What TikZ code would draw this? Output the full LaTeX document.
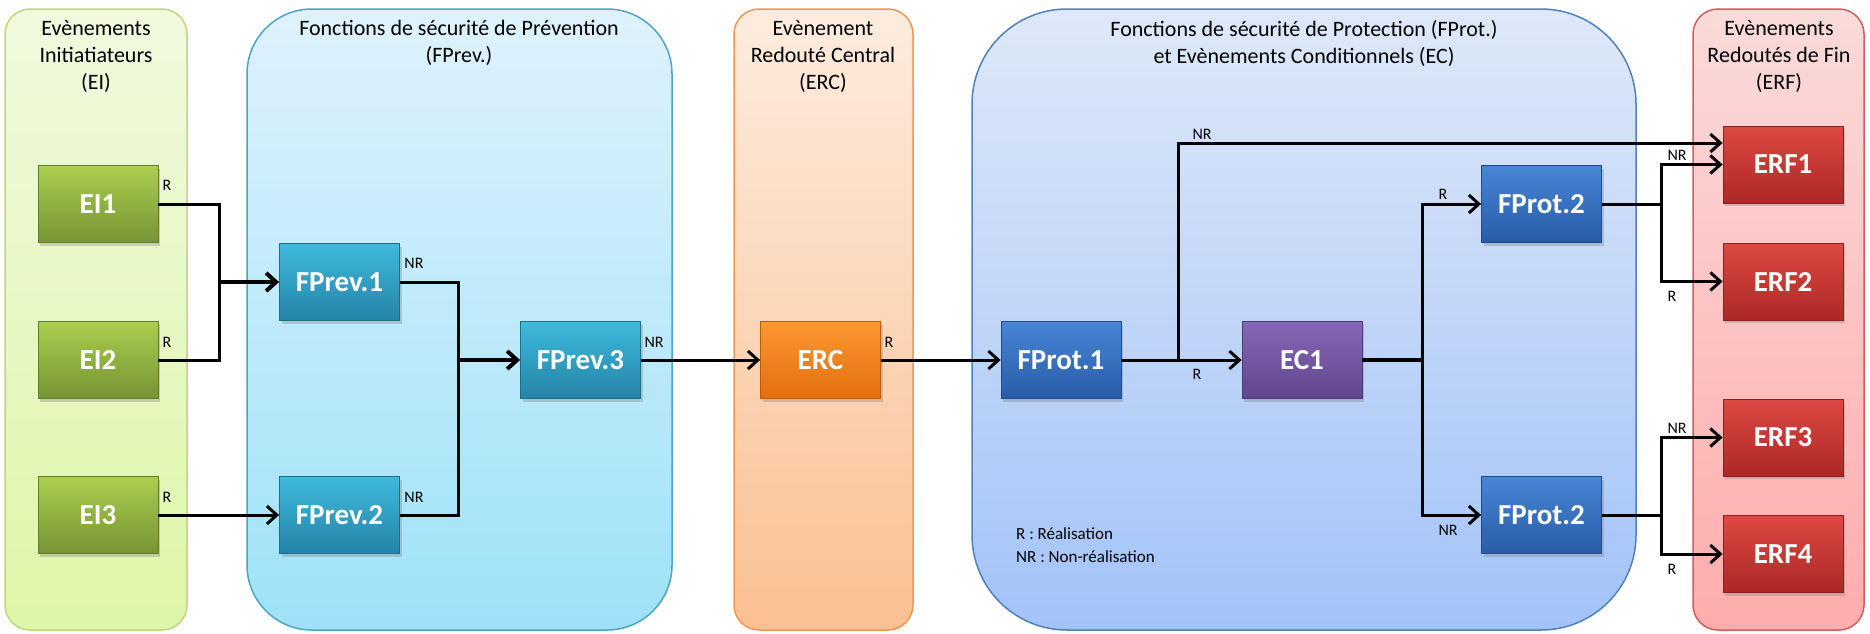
\documentclass[tikz,border=0pt]{standalone}
\usepackage{fontspec}
\setmainfont{Carlito}
\usetikzlibrary{arrows.meta,shadows,calc}
\definecolor{gpT}{RGB}{241,249,222}\definecolor{gpB}{RGB}{222,246,168}\definecolor{gpD}{RGB}{190,214,120}
\definecolor{cpT}{RGB}{222,242,252}\definecolor{cpB}{RGB}{158,226,248}\definecolor{cpD}{RGB}{75,165,195}
\definecolor{opT}{RGB}{253,236,222}\definecolor{opB}{RGB}{250,192,146}\definecolor{opD}{RGB}{240,150,80}
\definecolor{bpT}{RGB}{222,232,248}\definecolor{bpB}{RGB}{162,195,248}\definecolor{bpD}{RGB}{79,129,189}
\definecolor{rpT}{RGB}{250,218,218}\definecolor{rpB}{RGB}{255,172,172}\definecolor{rpD}{RGB}{205,95,95}
\definecolor{gnT}{RGB}{170,206,78}\definecolor{gnB}{RGB}{118,148,52}\definecolor{gnD}{RGB}{100,125,45}
\definecolor{cnT}{RGB}{62,185,220}\definecolor{cnB}{RGB}{36,132,168}\definecolor{cnD}{RGB}{30,110,140}
\definecolor{onT}{RGB}{252,152,48}\definecolor{onB}{RGB}{226,110,14}\definecolor{onD}{RGB}{190,90,10}
\definecolor{bnT}{RGB}{72,134,214}\definecolor{bnB}{RGB}{40,92,168}\definecolor{bnD}{RGB}{35,75,140}
\definecolor{pnT}{RGB}{134,104,184}\definecolor{pnB}{RGB}{96,70,140}\definecolor{pnD}{RGB}{80,58,118}
\definecolor{rnT}{RGB}{222,72,66}\definecolor{rnB}{RGB}{172,40,38}\definecolor{rnD}{RGB}{140,32,30}
\begin{document}
\begin{tikzpicture}[x=1pt,y=-1pt,
  panel/.style={line width=1.5pt},
  ttl/.style={anchor=north,align=center,inner sep=0pt,font=\fontsize{22}{27}\selectfont},
  box/.style={minimum width=120pt,minimum height=77pt,inner sep=0pt,text=white,
    font=\fontsize{29}{32}\selectfont\bfseries,line width=0.8pt,
    drop shadow={opacity=0.35,shadow xshift=2pt,shadow yshift=-3pt}},
  gbox/.style={box,draw=gnD,top color=gnT,bottom color=gnB},
  cbox/.style={box,draw=cnD,top color=cnT,bottom color=cnB},
  obox/.style={box,draw=onD,top color=onT,bottom color=onB},
  bbox/.style={box,draw=bnD,top color=bnT,bottom color=bnB},
  pbox/.style={box,draw=pnD,top color=pnT,bottom color=pnB},
  rbox/.style={box,draw=rnD,top color=rnT,bottom color=rnB},
  lbl/.style={inner sep=0pt,font=\fontsize{16}{18}\selectfont},
  conn/.style={line width=3pt,black},
  arr/.style={conn,-{Straight Barb[length=10pt,width=18pt]}}
]
\useasboundingbox (0,0) rectangle (1870,633);
% panels
\draw[panel,draw=gpD,top color=gpT,bottom color=gpB,rounded corners=25pt] (5,9) rectangle (187,630);
\draw[panel,draw=cpD,top color=cpT,bottom color=cpB,rounded corners=65pt] (247,9) rectangle (672,630);
\draw[panel,draw=opD,top color=opT,bottom color=opB,rounded corners=25pt] (734,9) rectangle (913,630);
\draw[panel,draw=bpD,top color=bpT,bottom color=bpB,rounded corners=95pt] (972,9) rectangle (1636,630);
\draw[panel,draw=rpD,top color=rpT,bottom color=rpB,rounded corners=25pt] (1693,9) rectangle (1864,630);
% titles
\node[ttl] (t1) at (96,20) {Evènements\\Initiatiateurs\\(EI)};
\node[ttl] (t2) at (459,20) {Fonctions de sécurité de Prévention\\(FPrev.)};
\node[ttl] (t3) at (823,20) {Evènement\\Redouté Central\\(ERC)};
\node[ttl] (t4) at (1304,20) {Fonctions de sécurité de Protection (FProt.)\\et Evènements Conditionnels (EC)};
\node[ttl] (t5) at (1779,20) {Evènements\\Redoutés de Fin\\(ERF)};
% nodes
\node[gbox] (EI1) at (98,204) {EI1};
\node[gbox] (EI2) at (98,360) {EI2};
\node[gbox] (EI3) at (98,515) {EI3};
\node[cbox] (FPa) at (339.5,282) {FPrev.1};
\node[cbox] (FPb) at (339.5,515) {FPrev.2};
\node[cbox] (FPc) at (580.5,360) {FPrev.3};
\node[obox] (ERC) at (820.5,360) {ERC};
\node[bbox] (FT1) at (1061,360) {FProt.1};
\node[pbox] (EC1) at (1302,360) {EC1};
\node[bbox] (FT2a) at (1541.5,204) {FProt.2};
\node[bbox] (FT2b) at (1541.5,515) {FProt.2};
\node[rbox] (ERF1) at (1783,164.5) {ERF1};
\node[rbox] (ERF2) at (1783,281.5) {ERF2};
\node[rbox] (ERF3) at (1783,437.5) {ERF3};
\node[rbox] (ERF4) at (1783,554) {ERF4};
% junctions
\coordinate (j1) at (219,282);
\coordinate (j2) at (458,360);
\coordinate (j3) at (1178,360);
\coordinate (j4) at (1422,360);
\coordinate (j5) at (1661,204);
\coordinate (j6) at (1661,515);
% connectors
\draw[conn] (EI1.east) -| (j1) |- (EI2.east);
\draw[arr,line width=4pt] (j1) -- (FPa.west);
\draw[arr] (EI3.east) -- (FPb.west);
\draw[conn] (FPa.east) -| (j2) |- (FPb.east);
\draw[arr,line width=4pt] (j2) -- (FPc.west);
\draw[arr] (FPc.east) -- (ERC.west);
\draw[arr] (ERC.east) -- (FT1.west);
\draw[arr] (FT1.east) -- (EC1.west);
\draw[arr] (j3) |- ($(ERF1.west)+(0,-21.5)$);
\draw[conn,line width=4.5pt] (EC1.east) -- (j4);
\draw[arr] (j4) |- (FT2a.west);
\draw[arr] (j4) |- (FT2b.west);
\draw[conn] (FT2a.east) -- (j5);
\draw[arr] (j5) |- (ERF1.west);
\draw[arr] (j5) |- (ERF2.west);
\draw[conn] (FT2b.east) -- (j6);
\draw[arr] (j6) |- (ERF3.west);
\draw[arr] (j6) |- (ERF4.west);
% labels
\node[lbl] (l1) at (167,185) {R};
\node[lbl] (l2) at (167,342) {R};
\node[lbl] (l3) at (167,497) {R};
\node[lbl] (l4) at (414,263) {NR};
\node[lbl] (l5) at (414,497) {NR};
\node[lbl] (l6) at (654,342) {NR};
\node[lbl] (l7) at (889,342) {R};
\node[lbl] (l8) at (1202,134) {NR};
\node[lbl] (l9) at (1197,374) {R};
\node[lbl] (l10) at (1443,194) {R};
\node[lbl] (l11) at (1448,530) {NR};
\node[lbl] (l12) at (1677,155) {NR};
\node[lbl] (l13) at (1672,296) {R};
\node[lbl] (l14) at (1677,428) {NR};
\node[lbl] (l15) at (1672,569) {R};
\node[anchor=west,align=left,inner sep=0pt,font=\fontsize{17}{23}\selectfont] (leg) at (1016,545) {R : Réalisation\\NR : Non-réalisation};
\end{tikzpicture}
\end{document}
